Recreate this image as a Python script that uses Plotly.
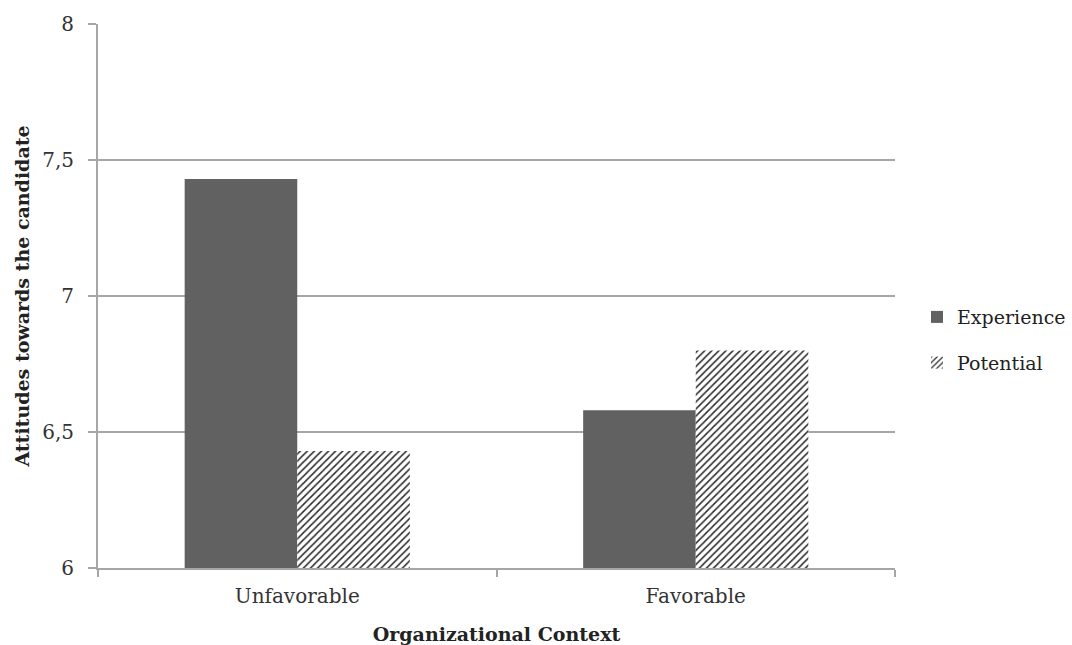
import plotly.graph_objects as go

categories = ["Unfavorable", "Favorable"]
experience = [7.43, 6.58]
potential = [6.43, 6.80]
y_ticks = [6, 6.5, 7, 7.5, 8]

font_family = "DejaVu Serif, Liberation Serif, serif"
grid_color = "#a6a6a6"

fig = go.Figure()
fig.add_trace(go.Bar(
    name="Experience", x=categories, y=experience, legendgroup="e",
    marker=dict(color="#616161", line=dict(width=0)),
))
fig.add_trace(go.Bar(
    name="Potential", x=categories, y=potential, legendgroup="p",
    marker=dict(color="white", line=dict(width=0),
                pattern=dict(shape="/", fgcolor="#2a2a2a", bgcolor="white",
                             size=5, solidity=0.3, fillmode="replace")),
))

fig.update_layout(
    width=1072, height=645,
    margin=dict(l=98, r=177, t=24, b=77, autoexpand=False),
    paper_bgcolor="white", plot_bgcolor="white",
    barmode="group", bargap=0.435, bargroupgap=0,
    separators=",.",
    font=dict(family=font_family, size=19, color="#333"),
    showlegend=True,
    legend=dict(x=1.0276, y=0.419, xanchor="left", yanchor="middle",
                font=dict(size=19, family=font_family, color="#222"),
                tracegroupgap=18, itemwidth=30),
    xaxis=dict(
        title=dict(text="<b>Organizational Context</b>", font=dict(size=19, color="#222"), standoff=24),
        showline=True, linecolor=grid_color, linewidth=2,
        ticks="outside", tickson="boundaries", ticklen=7, tickcolor=grid_color, tickwidth=2,
        showgrid=False, tickfont=dict(size=20), ticklabelstandoff=9, automargin=False,
    ),
    yaxis=dict(
        title=dict(text="<b>Attitudes towards the candidate</b>", font=dict(size=19, color="#222"), standoff=8),
        range=[6, 8], tickvals=y_ticks,
        showline=True, linecolor=grid_color, linewidth=2,
        ticks="outside", ticklen=8, tickcolor=grid_color, tickwidth=2,
        showgrid=True, gridcolor=grid_color, gridwidth=1.5,
        zeroline=False, tickfont=dict(size=20), ticklabelstandoff=10, automargin=False,
    ),
)

fig.write_html("out.html", config={"displayModeBar": False},
               post_script="document.body.style.margin='0';document.body.style.overflow='hidden';")
